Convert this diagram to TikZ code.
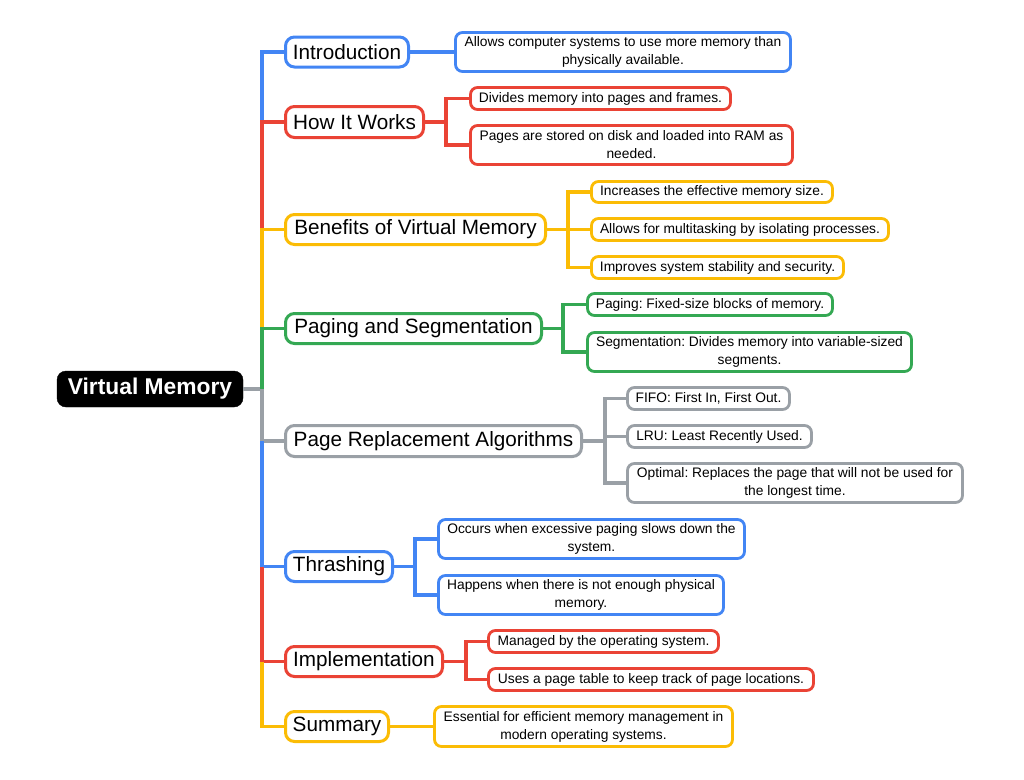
\documentclass[tikz,border=0pt]{standalone}
\usepackage{fontspec}
\setmainfont{Liberation Sans}
\frenchspacing
\definecolor{cblue}{RGB}{66,133,244}
\definecolor{cred}{RGB}{234,67,53}
\definecolor{cyellow}{RGB}{251,188,5}
\definecolor{cgreen}{RGB}{52,168,83}
\definecolor{cgray}{RGB}{154,160,166}
\tikzset{
  rootbox/.style={fill=black,draw=black,rounded corners=9pt,inner sep=0pt,text=white,
    font={\fontsize{22.8}{26}\selectfont\bfseries}},
  branchbox/.style={draw=#1,fill=white,line width=3pt,rounded corners=9pt,inner sep=0pt,
    font={\fontsize{20.7}{24}\selectfont}},
  leafbox/.style={draw=#1,fill=white,line width=2.8pt,rounded corners=7pt,inner sep=0pt,
    align=center,font={\fontsize{13.8}{18}\selectfont}},
  conn/.style={draw=#1,line width=3.8pt},
}
\begin{document}
\begin{tikzpicture}[x=1pt,y=-1pt]
\useasboundingbox (0,0) rectangle (1024,779);
% trunk junction
\coordinate (tr) at (262,389);
% root
\node[rootbox,minimum width=186pt,minimum height=36pt] (root) at (150,389) {Virtual Memory};
% branches
\node[branchbox=cblue,minimum width=123pt,minimum height=30pt] (intro) at (347,52) {Introduction};
\node[branchbox=cred,minimum width=138pt,minimum height=31pt] (how) at (354.5,122) {How It Works};
\node[branchbox=cyellow,minimum width=260pt,minimum height=30pt] (ben) at (415.5,229.5) {Benefits of Virtual Memory};
\node[branchbox=cgreen,minimum width=256pt,minimum height=30pt] (pag) at (413.5,328.5) {Paging and Segmentation};
\node[branchbox=cgray,minimum width=296pt,minimum height=31pt] (pra) at (433.5,441) {Page Replacement Algorithms};
\node[branchbox=cblue,minimum width=107pt,minimum height=30pt] (thr) at (339,566.5) {Thrashing};
\node[branchbox=cred,minimum width=157pt,minimum height=30pt] (imp) at (364,661.5) {Implementation};
\node[branchbox=cyellow,minimum width=103pt,minimum height=30pt] (sum) at (337,726.5) {Summary};
% leaves
\node[leafbox=cblue,minimum width=335pt,minimum height=39pt] (i1) at (623,52) {Allows computer systems to use more memory than\\physically available.};
\node[leafbox=cred,minimum width=260pt,minimum height=22pt] (h1) at (600.5,98.5) {Divides memory into pages and frames.};
\node[leafbox=cred,minimum width=322pt,minimum height=39pt] (h2) at (631.5,145) {Pages are stored on disk and loaded into RAM as\\needed.};
\node[leafbox=cyellow,minimum width=241pt,minimum height=21pt] (b1) at (712,192) {Increases the effective memory size.};
\node[leafbox=cyellow,minimum width=297pt,minimum height=22pt] (b2) at (740,229.5) {Allows for multitasking by isolating processes.};
\node[leafbox=cyellow,minimum width=252pt,minimum height=22pt] (b3) at (717.5,267.5) {Improves system stability and security.};
\node[leafbox=cgreen,minimum width=245pt,minimum height=22pt] (p1) at (710,304.5) {Paging: Fixed-size blocks of memory.};
\node[leafbox=cgreen,minimum width=324pt,minimum height=39pt] (p2) at (749.5,352) {Segmentation: Divides memory into variable-sized\\segments.};
\node[leafbox=cgray,minimum width=162pt,minimum height=22pt] (r1) at (708.5,398.5) {FIFO: First In, First Out.};
\node[leafbox=cgray,minimum width=184pt,minimum height=22pt] (r2) at (719.5,436.5) {LRU: Least Recently Used.};
\node[leafbox=cgray,minimum width=335pt,minimum height=39pt] (r3) at (795,483) {Optimal: Replaces the page that will not be used for\\the longest time.};
\node[leafbox=cblue,minimum width=306pt,minimum height=39pt] (t1) at (591.5,539) {Occurs when excessive paging slows down the\\system.};
\node[leafbox=cblue,minimum width=285pt,minimum height=39pt] (t2) at (581,595) {Happens when there is not enough physical\\memory.};
\node[leafbox=cred,minimum width=230pt,minimum height=22pt] (m1) at (603.5,641.5) {Managed by the operating system.};
\node[leafbox=cred,minimum width=325pt,minimum height=22pt] (m2) at (651,679.5) {Uses a page table to keep track of page locations.};
\node[leafbox=cyellow,minimum width=298pt,minimum height=40pt] (s1) at (583.5,726.5) {Essential for efficient memory management in\\modern operating systems.};
% junctions
\coordinate (hj) at (446,122);
\coordinate (bj) at (568,229.5);
\coordinate (pj) at (563,328.5);
\coordinate (rj) at (605,441);
\coordinate (tj) at (415,566.5);
\coordinate (mj) at (466,661.5);
% trunk connectors
\draw[conn=cgray] (root.east) -- (tr);
\draw[conn=cblue] (intro.west) -| (tr |- how.west);
\draw[conn=cred] (how.west) -| (tr |- ben.west);
\draw[conn=cyellow] (ben.west) -| (tr |- pag.west);
\draw[conn=cgreen] (pag.west) -| (tr);
\draw[conn=cgray] (pra.west) -| (tr);
\draw[conn=cblue] (thr.west) -| (tr |- pra.west);
\draw[conn=cred] (imp.west) -| (tr |- thr.west);
\draw[conn=cyellow] (sum.west) -| (tr |- imp.west);
% leaf connectors
\draw[conn=cblue] (intro.east) -- (i1.west);
\draw[conn=cred] (how.east) -- (hj) |- (h1.west);
\draw[conn=cred] (hj) |- (h2.west);
\draw[conn=cyellow] (ben.east) -- (bj) |- (b1.west);
\draw[conn=cyellow] (bj) -- (b2.west);
\draw[conn=cyellow] (bj) |- (b3.west);
\draw[conn=cgreen] (pag.east) -- (pj) |- (p1.west);
\draw[conn=cgreen] (pj) |- (p2.west);
\draw[conn=cgray] (pra.east) -- (rj) |- (r1.west);
\draw[conn=cgray] (rj) |- (r2.west);
\draw[conn=cgray] (rj) |- (r3.west);
\draw[conn=cblue] (thr.east) -- (tj) |- (t1.west);
\draw[conn=cblue] (tj) |- (t2.west);
\draw[conn=cred] (imp.east) -- (mj) |- (m1.west);
\draw[conn=cred] (mj) |- (m2.west);
\draw[conn=cyellow] (sum.east) -- (s1.west);
\end{tikzpicture}
\end{document}
